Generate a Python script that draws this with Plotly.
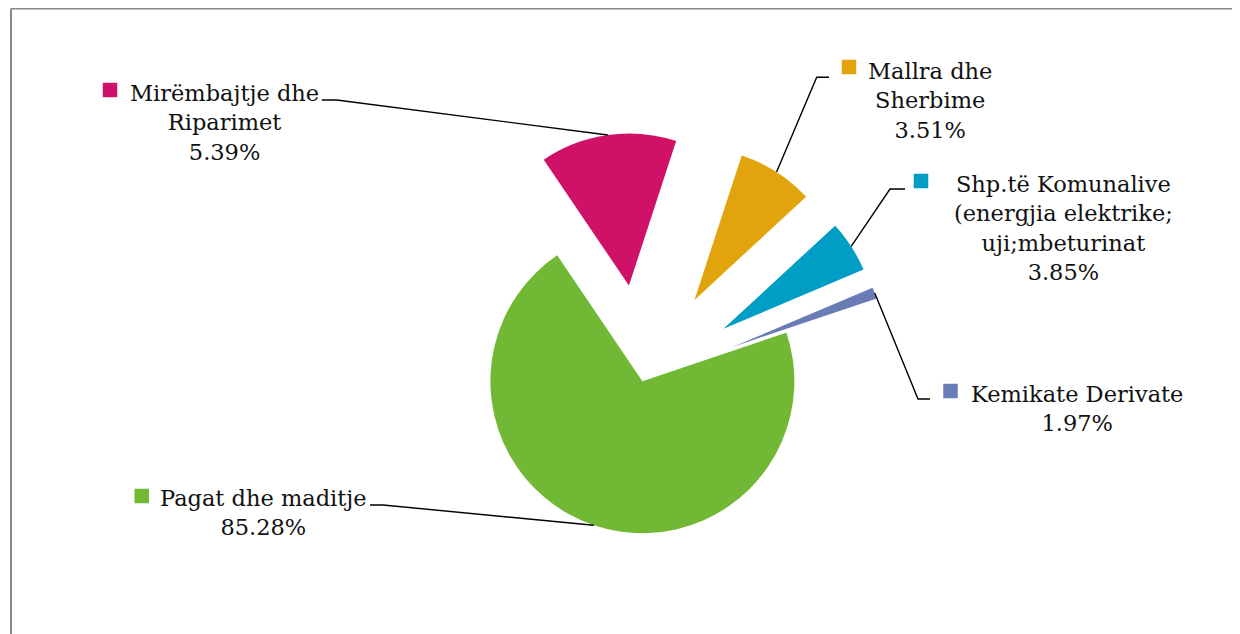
import math
import plotly.graph_objects as go

# ---- data ----
categories = [
    "Mirëmbajtje dhe<br>Riparimet",
    "Mallra dhe<br>Sherbime",
    "Shp.të Komunalive<br>(energjia elektrike;<br>uji;mbeturinat",
    "Kemikate Derivate",
    "Pagat dhe maditje",
]
slice_values = [14.5, 8.1, 5.5, 1.2, 70.7]      # slice sizes as drawn
label_pct = ["5.39%", "3.51%", "3.85%", "1.97%", "85.28%"]  # printed labels
colors = ["#CF1268", "#E1A40C", "#009DC4", "#6A7CB6", "#71B935"]

# ---- layout / style ----
W, H = 1240, 634
OFF = 8  # page body margin
pulls = [0.635, 0.635, 0.635, 0.635, 0.0]
rotation = -34.1
dom_x = [0.2936, 0.7296]
dom_y = [0.0194, 0.8034]

# label block centres, legend-key centres, leader elbows (screen pixels)
label_xy = [(224.5, 123), (930.5, 101), (1063, 228), (1076.5, 408.5), (263, 512.5)]
key_xy = [(110, 90), (849, 67), (921, 181), (950.5, 391), (141.7, 496)]
elbows = [
    ((321.7, 100), (336.7, 100)),
    ((829, 77.3), (816.7, 77.3)),
    ((905, 189), (890, 189)),
    ((930, 399), (918, 399)),
    ((370, 505), (383, 505)),
]
FONT = "DejaVu Serif"
FSIZE = 22.5
KEY = 14.5


def px(x, y):
    return (x - OFF) / W, 1 - (y - OFF) / H


def fig_px(x, y):
    return x / W, 1 - y / H


# pie geometry (same rule plotly uses for pies with pull), figure pixels
boxW = W * (dom_x[1] - dom_x[0])
boxH = H * (dom_y[1] - dom_y[0])
r = min(boxW, boxH) / (2 + 2 * max(pulls))
cx = W * (dom_x[0] + dom_x[1]) / 2
cy = H * (1 - dom_y[0]) - boxH / 2

total = sum(slice_values)
fig = go.Figure()
fig.add_trace(go.Pie(
    labels=[c.replace("<br>", " ") for c in categories],
    values=slice_values,
    sort=False,
    direction="clockwise",
    rotation=rotation,
    pull=pulls,
    marker=dict(colors=colors, line=dict(width=0)),
    textinfo="none",
    hoverinfo="label",
    domain=dict(x=dom_x, y=dom_y),
    showlegend=False,
))

shapes = []
annotations = []
cum = 0.0
for i, v in enumerate(slice_values):
    mid = math.radians(rotation + (cum + v / 2) / total * 360)
    cum += v
    rr = r * (1 + pulls[i])
    ex, ey = cx + rr * math.sin(mid), cy - rr * math.cos(mid)
    (ax, ay), (bx, by) = elbows[i]
    p0, p1, p2 = px(ax, ay), px(bx, by), fig_px(ex, ey)
    shapes.append(dict(
        type="path", xref="paper", yref="paper",
        path=f"M {p0[0]},{p0[1]} L {p1[0]},{p1[1]} L {p2[0]},{p2[1]}",
        line=dict(color="black", width=1.4),
    ))
    kx, ky = key_xy[i]
    k0, k1 = px(kx - KEY / 2, ky + KEY / 2), px(kx + KEY / 2, ky - KEY / 2)
    shapes.append(dict(
        type="rect", xref="paper", yref="paper",
        x0=k0[0], y0=k0[1], x1=k1[0], y1=k1[1],
        fillcolor=colors[i], line=dict(width=0),
    ))
    lx, ly = px(*label_xy[i])
    annotations.append(dict(
        x=lx, y=ly, xref="paper", yref="paper",
        xanchor="center", yanchor="middle", align="center",
        text=categories[i] + "<br>" + label_pct[i],
        showarrow=False,
        font=dict(family=FONT, size=FSIZE, color="#111111"),
    ))

# outer chart border (left and top visible)
bx0, by0 = px(11, 8.75)
shapes.append(dict(type="line", xref="paper", yref="paper",
                   x0=bx0, y0=by0, x1=bx0, y1=-0.02,
                   line=dict(color="#888888", width=2)))
shapes.append(dict(type="line", xref="paper", yref="paper",
                   x0=bx0, y0=by0, x1=1.02, y1=by0,
                   line=dict(color="#888888", width=1.5)))

fig.update_layout(
    width=W, height=H,
    margin=dict(l=0, r=0, t=0, b=0),
    paper_bgcolor="white",
    plot_bgcolor="white",
    shapes=shapes,
    annotations=annotations,
)

fig.write_html("out.html")
